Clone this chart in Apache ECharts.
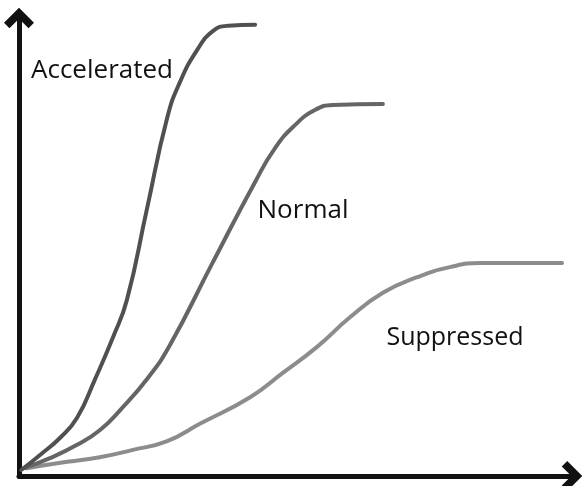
<!DOCTYPE html>
<html>
<head>
<meta charset="utf-8">
<script src="https://cdn.jsdelivr.net/npm/echarts@6/dist/echarts.min.js"></script>
<style>
html,body{margin:0;padding:0;background:#fff;}
#c{width:586px;height:486px;}
</style>
</head>
<body>
<div id="c"></div>
<script>
// Time (arbitrary units, 0-100) and size (arbitrary units, 0-100)
const acceleratedX = [0.4, 3.8, 7.4, 10.5, 13.7, 17.0, 19.5, 23.1, 26.8, 29.1, 32.2, 35.1, 37.8, 42.7];
const acceleratedY = [1.3, 4.6, 8.3, 12.7, 21.0, 30.3, 38.4, 58.1, 78.2, 86.0, 93.0, 97.2, 98.3, 98.5];

const normalX = [0.9, 5.6, 10.5, 14.6, 18.3, 23.3, 27.3, 34.9, 42.7, 46.3, 49.9, 53.5, 56.8, 65.8];
const normalY = [1.7, 3.9, 6.8, 10.0, 14.4, 21.4, 28.6, 46.3, 64.2, 71.6, 76.6, 79.9, 81.0, 81.2];

const suppressedX = [1.3, 8.7, 14.6, 20.6, 26.8, 32.7, 41.8, 47.7, 53.9, 59.9, 65.8, 72.0, 77.9, 83.4, 98.2];
const suppressedY = [1.7, 3.1, 4.1, 5.7, 7.6, 11.4, 17.2, 22.5, 28.2, 34.7, 40.0, 43.4, 45.6, 46.5, 46.5];

const seriesNames = ['Accelerated', 'Normal', 'Suppressed'];

function pairs(xs, ys) { return xs.map((x, i) => [x, ys[i]]); }

const chevron = 'path://M0,11 L11,0 L22,11 L18,15 L11,8 L4,15 Z';

const chart = echarts.init(document.getElementById('c'), null, {renderer: 'canvas'});
const font = '"Open Sans", "Noto Sans", sans-serif';

const axisCommon = {
  type: 'value',
  min: 0,
  max: 100,
  axisLine: {show: true, symbol: ['none', chevron], symbolSize: [30, 21], lineStyle: {color: '#111', width: 5}},
  axisTick: {show: false},
  axisLabel: {show: false},
  splitLine: {show: false}
};

const colors = ['#505050', '#656565', '#8c8c8c'];
const data = [pairs(acceleratedX, acceleratedY), pairs(normalX, normalY), pairs(suppressedX, suppressedY)];

chart.setOption({
  animation: false,
  backgroundColor: '#fff',
  grid: {left: 19, right: 14, top: 18, bottom: 10},
  xAxis: axisCommon,
  yAxis: axisCommon,
  series: seriesNames.map((n, i) => ({
    name: n,
    type: 'line',
    data: data[i],
    smooth: 0.5,
    showSymbol: false,
    lineStyle: {color: colors[i], width: 4, cap: 'round'},
    z: 3 - i
  })),
  graphic: [
    {type: 'text', x: 102, y: 71, style: {text: seriesNames[0], fill: '#111', font: '26px ' + font, align: 'center', verticalAlign: 'middle'}},
    {type: 'text', x: 303, y: 211, style: {text: seriesNames[1], fill: '#111', font: '26px ' + font, align: 'center', verticalAlign: 'middle'}},
    {type: 'text', x: 455, y: 338, style: {text: seriesNames[2], fill: '#111', font: '25px ' + font, align: 'center', verticalAlign: 'middle'}}
  ]
});
</script>
</body>
</html>
